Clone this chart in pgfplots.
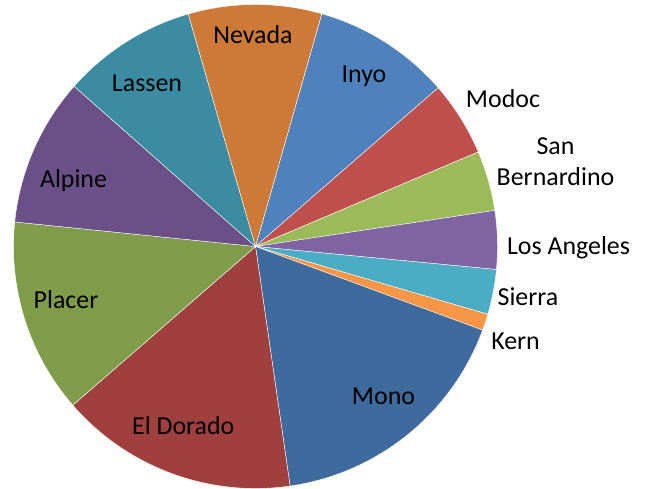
\documentclass[border=0pt]{standalone}
\usepackage{pgfplots}
\usepackage{pgfplotstable}
\pgfplotsset{compat=1.18}
\usepackage{fontspec}
\setmainfont{Carlito}
\definecolor{cInyo}{HTML}{4F81BD}
\definecolor{cModoc}{HTML}{C0504D}
\definecolor{cSanB}{HTML}{9BBB59}
\definecolor{cLA}{HTML}{8064A2}
\definecolor{cSierra}{HTML}{4BACC6}
\definecolor{cKern}{HTML}{F79646}
\definecolor{cMono}{HTML}{3F6A9E}
\definecolor{cElDorado}{HTML}{A0403E}
\definecolor{cPlacer}{HTML}{7F9C4A}
\definecolor{cAlpine}{HTML}{6A5086}
\definecolor{cLassen}{HTML}{3B8CA3}
\definecolor{cNevada}{HTML}{CD7A38}
\pgfplotstableread{
name value col
Inyo 9.2 cInyo
Modoc 5.0 cModoc
SanBernardino 4.0 cSanB
LosAngeles 3.9 cLA
Sierra 3.0 cSierra
Kern 1.1 cKern
Mono 17.1 cMono
ElDorado 15.9 cElDorado
Placer 13.0 cPlacer
Alpine 9.9 cAlpine
Lassen 9.0 cLassen
Nevada 8.9 cNevada
}\pietable
\def\cx{255.5}
\def\cy{242.5}
\def\R{242}
\begin{document}
\begin{tikzpicture}
\begin{axis}[scale only axis, width=649bp, height=489bp,
  axis line style={draw=none}, xtick=\empty, ytick=\empty,
  xmin=0, xmax=649, ymin=0, ymax=489, clip=false]
\pgfmathsetmacro\acc{15.9}
\pgfplotsforeachungrouped \i in {0,...,11}{%
  \pgfplotstablegetelem{\i}{value}\of\pietable \let\v\pgfplotsretval
  \pgfplotstablegetelem{\i}{col}\of\pietable \let\c\pgfplotsretval
  \pgfmathsetmacro\b{\acc+3.6*\v}%
  \edef\temp{\noexpand\addplot[fill=\c, draw=white, line width=0.4pt, domain=\acc:\b, samples=80]
    ({\cx+\R*sin(x)},{\cy+\R*cos(x)}) -- (axis cs:\cx,\cy) -- cycle;}%
  \temp
  \global\let\acc\b
}
\begin{scope}[every node/.style={anchor=base, inner sep=0pt, font=\fontsize{26}{31}\selectfont}]
\node at (axis cs:253,445.7) {Nevada};
\node at (axis cs:364,406) {Inyo};
\node at (axis cs:503,381.7) {Modoc};
\node at (axis cs:555.5,334) {San};
\node at (axis cs:555.5,303) {Bernardino};
\node at (axis cs:568.5,234) {Los Angeles};
\node at (axis cs:528,183) {Sierra};
\node at (axis cs:515.5,139) {Kern};
\node at (axis cs:383.5,84) {Mono};
\node at (axis cs:183.3,54.7) {El Dorado};
\node at (axis cs:66,180.7) {Placer};
\node at (axis cs:73.5,301) {Alpine};
\node at (axis cs:147,397) {Lassen};
\end{scope}
\end{axis}
\end{tikzpicture}
\end{document}
